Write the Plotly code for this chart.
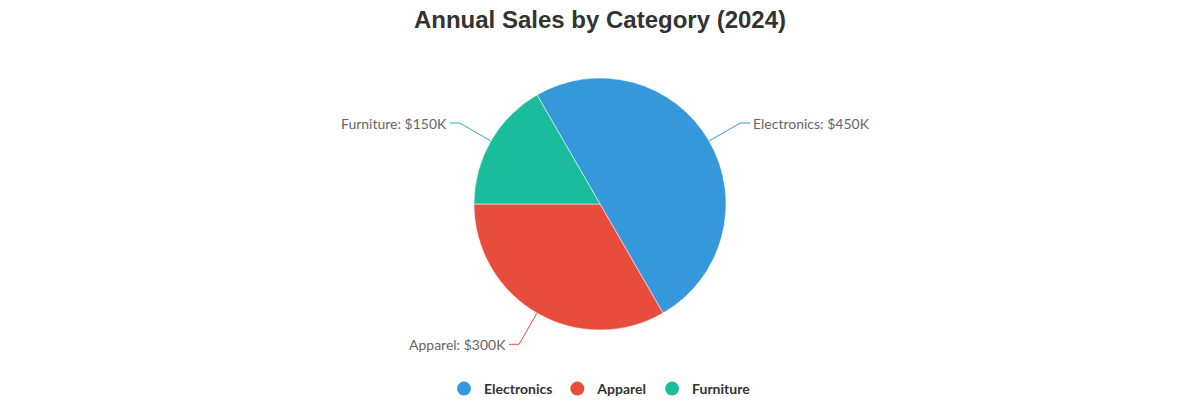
import numpy as np
import plotly.graph_objects as go

# data (sales in $K)
categories = ["Electronics", "Apparel", "Furniture"]
sales = [450, 300, 150]
colors = ["#3498db", "#e74c3c", "#1abc9c"]
title_text = "Annual Sales by Category (2024)"

W, H = 1200, 400
off = 8                              # page body margin shifts the figure by 8px
cx, cy, radius = 600 - off, 204 - off, 126
start_angle = -30                   # degrees clockwise from 12 o'clock
line_len, line_len2 = 36, 10        # leader line segments

fig = go.Figure()

fig.add_trace(go.Pie(
    labels=categories,
    values=sales,
    sort=False,
    direction="clockwise",
    rotation=start_angle,
    marker=dict(colors=colors, line=dict(color="white", width=0.5)),
    textinfo="none",
    hoverinfo="skip",
    showlegend=False,
    domain=dict(x=[(cx - radius) / W, (cx + radius) / W],
                y=[(H - cy - radius) / H, (H - cy + radius) / H]),
))

# leader lines + labels, computed from the slice mid angles
total = float(sum(sales))
cum = 0.0
annotations = []
for name, val, col in zip(categories, sales, colors):
    mid = np.deg2rad(start_angle + 360 * (cum + val / 2) / total)
    cum += val
    sx, sy = np.sin(mid), -np.cos(mid)
    x0, y0 = cx + radius * sx, cy + radius * sy
    x1, y1 = cx + (radius + line_len) * sx, cy + (radius + line_len) * sy
    side = 1 if sx >= 0 else -1
    x2 = x1 + side * line_len2
    fig.add_trace(go.Scatter(
        x=[x0, x1, x2], y=[y0, y1, y1],
        mode="lines", line=dict(color=col, width=1),
        hoverinfo="skip", showlegend=False,
    ))
    annotations.append(dict(
        x=x2 + side * 1, y=y1, xref="x", yref="y",
        text=f"{name}: ${val}K", showarrow=False,
        xanchor="left" if side > 0 else "right", yanchor="middle",
        font=dict(family="Lato", size=14, color="#666"),
    ))

# legend entries with round markers
for name, col in zip(categories, colors):
    fig.add_trace(go.Scatter(
        x=[None], y=[None], mode="markers", name=name,
        marker=dict(symbol="circle", size=14, color=col),
    ))

fig.update_layout(
    width=W, height=H,
    margin=dict(l=0, r=0, t=0, b=0),
    paper_bgcolor="white", plot_bgcolor="white",
    title=dict(text=f"<b>{title_text}</b>", x=(600 - off) / W, xanchor="center",
               y=1 - 3 / H, yanchor="top", pad=dict(t=0, b=0),
               font=dict(family="Liberation Sans", size=24, color="#333")),
    xaxis=dict(range=[0, W], visible=False, fixedrange=True),
    yaxis=dict(range=[H, 0], visible=False, fixedrange=True),
    legend=dict(orientation="h", x=(600 - off) / W, xanchor="center",
                y=(H - 389 + off) / H, yanchor="middle",
                font=dict(family="Lato", size=14, color="#333", weight="bold"),
                itemclick=False),
    annotations=annotations,
)

fig.write_html("out.html", config={"displayModeBar": False})
